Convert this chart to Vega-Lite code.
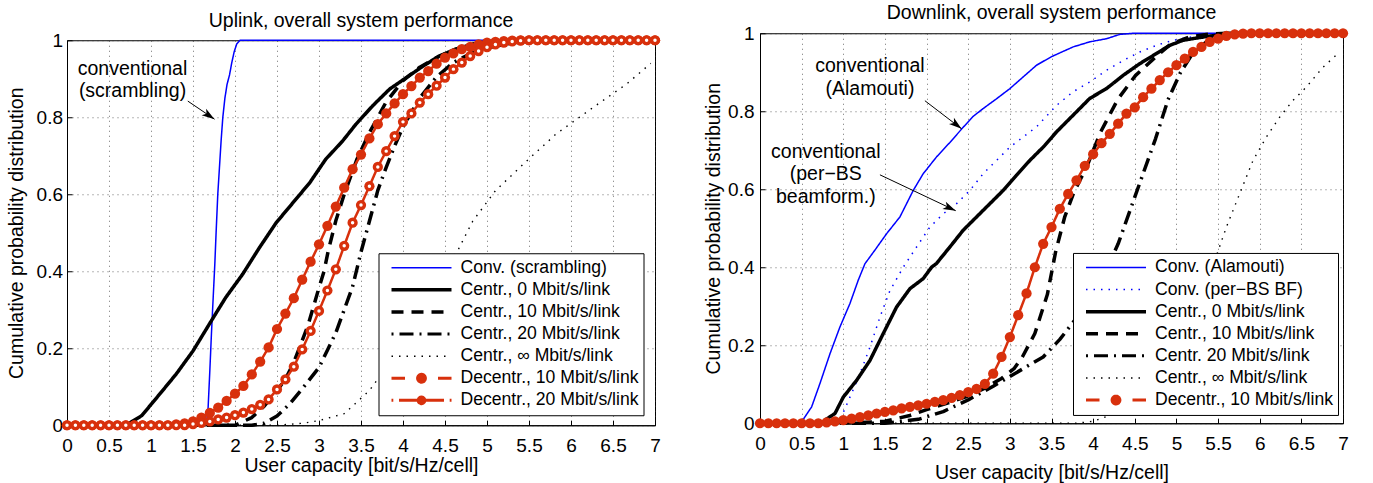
{
"$schema": "https://vega.github.io/schema/vega-lite/v6.json",
"background": "white",
"padding": {"left": 5, "top": 2, "right": 4, "bottom": 0},
"spacing": 42,
"center": true,
"datasets": {
"up": [
{"s":"Conv. (scrambling)","x":0,"y":0},{"s":"Conv. (scrambling)","x":1.6,"y":0},{"s":"Conv. (scrambling)","x":1.66,"y":0.005},{"s":"Conv. (scrambling)","x":1.68,"y":0.046},{"s":"Conv. (scrambling)","x":1.7,"y":0.14},{"s":"Conv. (scrambling)","x":1.72,"y":0.24},{"s":"Conv. (scrambling)","x":1.74,"y":0.33},{"s":"Conv. (scrambling)","x":1.76,"y":0.42},{"s":"Conv. (scrambling)","x":1.775,"y":0.5},{"s":"Conv. (scrambling)","x":1.795,"y":0.6},{"s":"Conv. (scrambling)","x":1.815,"y":0.67},{"s":"Conv. (scrambling)","x":1.835,"y":0.74},{"s":"Conv. (scrambling)","x":1.855,"y":0.8},{"s":"Conv. (scrambling)","x":1.88,"y":0.85},{"s":"Conv. (scrambling)","x":1.905,"y":0.885},{"s":"Conv. (scrambling)","x":1.935,"y":0.91},{"s":"Conv. (scrambling)","x":1.96,"y":0.94},{"s":"Conv. (scrambling)","x":1.99,"y":0.97},{"s":"Conv. (scrambling)","x":2.02,"y":0.99},{"s":"Conv. (scrambling)","x":2.06,"y":1},{"s":"Conv. (scrambling)","x":7,"y":1},
{"s":"Centr., 0 Mbit/s/link","x":0,"y":0},{"s":"Centr., 0 Mbit/s/link","x":0.7,"y":0},{"s":"Centr., 0 Mbit/s/link","x":0.74,"y":0.005},{"s":"Centr., 0 Mbit/s/link","x":0.89,"y":0.025},{"s":"Centr., 0 Mbit/s/link","x":1.1,"y":0.08},{"s":"Centr., 0 Mbit/s/link","x":1.3,"y":0.133},{"s":"Centr., 0 Mbit/s/link","x":1.5,"y":0.193},{"s":"Centr., 0 Mbit/s/link","x":1.74,"y":0.279},{"s":"Centr., 0 Mbit/s/link","x":1.89,"y":0.332},{"s":"Centr., 0 Mbit/s/link","x":2.09,"y":0.392},{"s":"Centr., 0 Mbit/s/link","x":2.29,"y":0.461},{"s":"Centr., 0 Mbit/s/link","x":2.49,"y":0.526},{"s":"Centr., 0 Mbit/s/link","x":2.69,"y":0.578},{"s":"Centr., 0 Mbit/s/link","x":2.89,"y":0.63},{"s":"Centr., 0 Mbit/s/link","x":3.08,"y":0.691},{"s":"Centr., 0 Mbit/s/link","x":3.28,"y":0.738},{"s":"Centr., 0 Mbit/s/link","x":3.44,"y":0.782},{"s":"Centr., 0 Mbit/s/link","x":3.64,"y":0.83},{"s":"Centr., 0 Mbit/s/link","x":3.84,"y":0.873},{"s":"Centr., 0 Mbit/s/link","x":4.04,"y":0.903},{"s":"Centr., 0 Mbit/s/link","x":4.24,"y":0.933},{"s":"Centr., 0 Mbit/s/link","x":4.43,"y":0.959},{"s":"Centr., 0 Mbit/s/link","x":4.63,"y":0.977},{"s":"Centr., 0 Mbit/s/link","x":4.83,"y":0.99},{"s":"Centr., 0 Mbit/s/link","x":5.1,"y":0.998},{"s":"Centr., 0 Mbit/s/link","x":5.4,"y":1},{"s":"Centr., 0 Mbit/s/link","x":7,"y":1},
{"s":"Centr., 10 Mbit/s/link","x":0,"y":0},{"s":"Centr., 10 Mbit/s/link","x":2.0,"y":0},{"s":"Centr., 10 Mbit/s/link","x":2.2,"y":0.02},{"s":"Centr., 10 Mbit/s/link","x":2.35,"y":0.05},{"s":"Centr., 10 Mbit/s/link","x":2.5,"y":0.09},{"s":"Centr., 10 Mbit/s/link","x":2.6,"y":0.12},{"s":"Centr., 10 Mbit/s/link","x":2.69,"y":0.158},{"s":"Centr., 10 Mbit/s/link","x":2.8,"y":0.22},{"s":"Centr., 10 Mbit/s/link","x":2.87,"y":0.26},{"s":"Centr., 10 Mbit/s/link","x":2.99,"y":0.35},{"s":"Centr., 10 Mbit/s/link","x":3.06,"y":0.4},{"s":"Centr., 10 Mbit/s/link","x":3.11,"y":0.453},{"s":"Centr., 10 Mbit/s/link","x":3.2,"y":0.531},{"s":"Centr., 10 Mbit/s/link","x":3.3,"y":0.6},{"s":"Centr., 10 Mbit/s/link","x":3.45,"y":0.69},{"s":"Centr., 10 Mbit/s/link","x":3.6,"y":0.76},{"s":"Centr., 10 Mbit/s/link","x":3.8,"y":0.84},{"s":"Centr., 10 Mbit/s/link","x":4.0,"y":0.895},{"s":"Centr., 10 Mbit/s/link","x":4.2,"y":0.93},{"s":"Centr., 10 Mbit/s/link","x":4.4,"y":0.955},{"s":"Centr., 10 Mbit/s/link","x":4.6,"y":0.975},{"s":"Centr., 10 Mbit/s/link","x":4.8,"y":0.988},{"s":"Centr., 10 Mbit/s/link","x":5.0,"y":0.995},{"s":"Centr., 10 Mbit/s/link","x":5.3,"y":1},{"s":"Centr., 10 Mbit/s/link","x":7,"y":1},
{"s":"Centr., 20 Mbit/s/link","x":0,"y":0},{"s":"Centr., 20 Mbit/s/link","x":2.2,"y":0},{"s":"Centr., 20 Mbit/s/link","x":2.35,"y":0.005},{"s":"Centr., 20 Mbit/s/link","x":2.5,"y":0.024},{"s":"Centr., 20 Mbit/s/link","x":2.65,"y":0.055},{"s":"Centr., 20 Mbit/s/link","x":2.82,"y":0.1},{"s":"Centr., 20 Mbit/s/link","x":3.0,"y":0.15},{"s":"Centr., 20 Mbit/s/link","x":3.1,"y":0.195},{"s":"Centr., 20 Mbit/s/link","x":3.2,"y":0.24},{"s":"Centr., 20 Mbit/s/link","x":3.3,"y":0.3},{"s":"Centr., 20 Mbit/s/link","x":3.4,"y":0.36},{"s":"Centr., 20 Mbit/s/link","x":3.5,"y":0.45},{"s":"Centr., 20 Mbit/s/link","x":3.6,"y":0.53},{"s":"Centr., 20 Mbit/s/link","x":3.7,"y":0.61},{"s":"Centr., 20 Mbit/s/link","x":3.8,"y":0.67},{"s":"Centr., 20 Mbit/s/link","x":3.9,"y":0.725},{"s":"Centr., 20 Mbit/s/link","x":4.0,"y":0.775},{"s":"Centr., 20 Mbit/s/link","x":4.2,"y":0.85},{"s":"Centr., 20 Mbit/s/link","x":4.4,"y":0.905},{"s":"Centr., 20 Mbit/s/link","x":4.6,"y":0.942},{"s":"Centr., 20 Mbit/s/link","x":4.8,"y":0.965},{"s":"Centr., 20 Mbit/s/link","x":5.0,"y":0.98},{"s":"Centr., 20 Mbit/s/link","x":5.3,"y":0.993},{"s":"Centr., 20 Mbit/s/link","x":5.6,"y":1},{"s":"Centr., 20 Mbit/s/link","x":7,"y":1},
{"s":"Centr., ∞ Mbit/s/link","x":0,"y":0},{"s":"Centr., ∞ Mbit/s/link","x":2.5,"y":0},{"s":"Centr., ∞ Mbit/s/link","x":2.8,"y":0.005},{"s":"Centr., ∞ Mbit/s/link","x":3.0,"y":0.012},{"s":"Centr., ∞ Mbit/s/link","x":3.3,"y":0.03},{"s":"Centr., ∞ Mbit/s/link","x":3.6,"y":0.09},{"s":"Centr., ∞ Mbit/s/link","x":3.8,"y":0.15},{"s":"Centr., ∞ Mbit/s/link","x":4.0,"y":0.22},{"s":"Centr., ∞ Mbit/s/link","x":4.2,"y":0.3},{"s":"Centr., ∞ Mbit/s/link","x":4.4,"y":0.37},{"s":"Centr., ∞ Mbit/s/link","x":4.65,"y":0.453},{"s":"Centr., ∞ Mbit/s/link","x":4.83,"y":0.53},{"s":"Centr., ∞ Mbit/s/link","x":5.1,"y":0.609},{"s":"Centr., ∞ Mbit/s/link","x":5.47,"y":0.686},{"s":"Centr., ∞ Mbit/s/link","x":5.82,"y":0.756},{"s":"Centr., ∞ Mbit/s/link","x":6.26,"y":0.825},{"s":"Centr., ∞ Mbit/s/link","x":6.66,"y":0.886},{"s":"Centr., ∞ Mbit/s/link","x":6.95,"y":0.94},
{"s":"Decentr., 10 Mbit/s/link","x":0,"y":0},{"s":"Decentr., 10 Mbit/s/link","x":0.1,"y":0},{"s":"Decentr., 10 Mbit/s/link","x":0.2,"y":0},{"s":"Decentr., 10 Mbit/s/link","x":0.3,"y":0},{"s":"Decentr., 10 Mbit/s/link","x":0.4,"y":0},{"s":"Decentr., 10 Mbit/s/link","x":0.5,"y":0},{"s":"Decentr., 10 Mbit/s/link","x":0.6,"y":0},{"s":"Decentr., 10 Mbit/s/link","x":0.7,"y":0},{"s":"Decentr., 10 Mbit/s/link","x":0.8,"y":0},{"s":"Decentr., 10 Mbit/s/link","x":0.9,"y":0},{"s":"Decentr., 10 Mbit/s/link","x":1.0,"y":0},{"s":"Decentr., 10 Mbit/s/link","x":1.1,"y":0},{"s":"Decentr., 10 Mbit/s/link","x":1.2,"y":0},{"s":"Decentr., 10 Mbit/s/link","x":1.3,"y":0.002},{"s":"Decentr., 10 Mbit/s/link","x":1.4,"y":0.005},{"s":"Decentr., 10 Mbit/s/link","x":1.5,"y":0.01},{"s":"Decentr., 10 Mbit/s/link","x":1.6,"y":0.02},{"s":"Decentr., 10 Mbit/s/link","x":1.7,"y":0.032},{"s":"Decentr., 10 Mbit/s/link","x":1.8,"y":0.046},{"s":"Decentr., 10 Mbit/s/link","x":1.9,"y":0.063},{"s":"Decentr., 10 Mbit/s/link","x":2.0,"y":0.082},{"s":"Decentr., 10 Mbit/s/link","x":2.1,"y":0.102},{"s":"Decentr., 10 Mbit/s/link","x":2.2,"y":0.132},{"s":"Decentr., 10 Mbit/s/link","x":2.3,"y":0.165},{"s":"Decentr., 10 Mbit/s/link","x":2.4,"y":0.202},{"s":"Decentr., 10 Mbit/s/link","x":2.5,"y":0.25},{"s":"Decentr., 10 Mbit/s/link","x":2.6,"y":0.29},{"s":"Decentr., 10 Mbit/s/link","x":2.7,"y":0.33},{"s":"Decentr., 10 Mbit/s/link","x":2.8,"y":0.378},{"s":"Decentr., 10 Mbit/s/link","x":2.9,"y":0.425},{"s":"Decentr., 10 Mbit/s/link","x":3.0,"y":0.47},{"s":"Decentr., 10 Mbit/s/link","x":3.1,"y":0.518},{"s":"Decentr., 10 Mbit/s/link","x":3.2,"y":0.568},{"s":"Decentr., 10 Mbit/s/link","x":3.3,"y":0.617},{"s":"Decentr., 10 Mbit/s/link","x":3.4,"y":0.665},{"s":"Decentr., 10 Mbit/s/link","x":3.5,"y":0.703},{"s":"Decentr., 10 Mbit/s/link","x":3.6,"y":0.745},{"s":"Decentr., 10 Mbit/s/link","x":3.7,"y":0.782},{"s":"Decentr., 10 Mbit/s/link","x":3.8,"y":0.81},{"s":"Decentr., 10 Mbit/s/link","x":3.9,"y":0.836},{"s":"Decentr., 10 Mbit/s/link","x":4.0,"y":0.86},{"s":"Decentr., 10 Mbit/s/link","x":4.1,"y":0.881},{"s":"Decentr., 10 Mbit/s/link","x":4.2,"y":0.903},{"s":"Decentr., 10 Mbit/s/link","x":4.3,"y":0.92},{"s":"Decentr., 10 Mbit/s/link","x":4.4,"y":0.939},{"s":"Decentr., 10 Mbit/s/link","x":4.5,"y":0.955},{"s":"Decentr., 10 Mbit/s/link","x":4.6,"y":0.966},{"s":"Decentr., 10 Mbit/s/link","x":4.7,"y":0.977},{"s":"Decentr., 10 Mbit/s/link","x":4.8,"y":0.983},{"s":"Decentr., 10 Mbit/s/link","x":4.9,"y":0.989},{"s":"Decentr., 10 Mbit/s/link","x":5.0,"y":0.994},{"s":"Decentr., 10 Mbit/s/link","x":5.1,"y":0.996},{"s":"Decentr., 10 Mbit/s/link","x":5.2,"y":0.998},{"s":"Decentr., 10 Mbit/s/link","x":5.3,"y":0.999},{"s":"Decentr., 10 Mbit/s/link","x":5.4,"y":1},{"s":"Decentr., 10 Mbit/s/link","x":5.5,"y":1},{"s":"Decentr., 10 Mbit/s/link","x":5.6,"y":1},{"s":"Decentr., 10 Mbit/s/link","x":5.7,"y":1},{"s":"Decentr., 10 Mbit/s/link","x":5.8,"y":1},{"s":"Decentr., 10 Mbit/s/link","x":5.9,"y":1},{"s":"Decentr., 10 Mbit/s/link","x":6.0,"y":1},{"s":"Decentr., 10 Mbit/s/link","x":6.1,"y":1},{"s":"Decentr., 10 Mbit/s/link","x":6.2,"y":1},{"s":"Decentr., 10 Mbit/s/link","x":6.3,"y":1},{"s":"Decentr., 10 Mbit/s/link","x":6.4,"y":1},{"s":"Decentr., 10 Mbit/s/link","x":6.5,"y":1},{"s":"Decentr., 10 Mbit/s/link","x":6.6,"y":1},{"s":"Decentr., 10 Mbit/s/link","x":6.7,"y":1},{"s":"Decentr., 10 Mbit/s/link","x":6.8,"y":1},{"s":"Decentr., 10 Mbit/s/link","x":6.9,"y":1},{"s":"Decentr., 10 Mbit/s/link","x":7.0,"y":1},
{"s":"Decentr., 20 Mbit/s/link","x":0,"y":0},{"s":"Decentr., 20 Mbit/s/link","x":0.1,"y":0},{"s":"Decentr., 20 Mbit/s/link","x":0.2,"y":0},{"s":"Decentr., 20 Mbit/s/link","x":0.3,"y":0},{"s":"Decentr., 20 Mbit/s/link","x":0.4,"y":0},{"s":"Decentr., 20 Mbit/s/link","x":0.5,"y":0},{"s":"Decentr., 20 Mbit/s/link","x":0.6,"y":0},{"s":"Decentr., 20 Mbit/s/link","x":0.7,"y":0},{"s":"Decentr., 20 Mbit/s/link","x":0.8,"y":0},{"s":"Decentr., 20 Mbit/s/link","x":0.9,"y":0},{"s":"Decentr., 20 Mbit/s/link","x":1.0,"y":0},{"s":"Decentr., 20 Mbit/s/link","x":1.1,"y":0},{"s":"Decentr., 20 Mbit/s/link","x":1.2,"y":0},{"s":"Decentr., 20 Mbit/s/link","x":1.3,"y":0},{"s":"Decentr., 20 Mbit/s/link","x":1.4,"y":0},{"s":"Decentr., 20 Mbit/s/link","x":1.5,"y":0.003},{"s":"Decentr., 20 Mbit/s/link","x":1.6,"y":0.006},{"s":"Decentr., 20 Mbit/s/link","x":1.7,"y":0.01},{"s":"Decentr., 20 Mbit/s/link","x":1.8,"y":0.015},{"s":"Decentr., 20 Mbit/s/link","x":1.9,"y":0.02},{"s":"Decentr., 20 Mbit/s/link","x":2.0,"y":0.026},{"s":"Decentr., 20 Mbit/s/link","x":2.1,"y":0.033},{"s":"Decentr., 20 Mbit/s/link","x":2.2,"y":0.042},{"s":"Decentr., 20 Mbit/s/link","x":2.3,"y":0.053},{"s":"Decentr., 20 Mbit/s/link","x":2.4,"y":0.067},{"s":"Decentr., 20 Mbit/s/link","x":2.5,"y":0.093},{"s":"Decentr., 20 Mbit/s/link","x":2.6,"y":0.119},{"s":"Decentr., 20 Mbit/s/link","x":2.7,"y":0.152},{"s":"Decentr., 20 Mbit/s/link","x":2.8,"y":0.197},{"s":"Decentr., 20 Mbit/s/link","x":2.9,"y":0.245},{"s":"Decentr., 20 Mbit/s/link","x":3.0,"y":0.297},{"s":"Decentr., 20 Mbit/s/link","x":3.1,"y":0.35},{"s":"Decentr., 20 Mbit/s/link","x":3.2,"y":0.405},{"s":"Decentr., 20 Mbit/s/link","x":3.3,"y":0.466},{"s":"Decentr., 20 Mbit/s/link","x":3.4,"y":0.526},{"s":"Decentr., 20 Mbit/s/link","x":3.5,"y":0.572},{"s":"Decentr., 20 Mbit/s/link","x":3.6,"y":0.621},{"s":"Decentr., 20 Mbit/s/link","x":3.7,"y":0.671},{"s":"Decentr., 20 Mbit/s/link","x":3.8,"y":0.712},{"s":"Decentr., 20 Mbit/s/link","x":3.9,"y":0.751},{"s":"Decentr., 20 Mbit/s/link","x":4.0,"y":0.788},{"s":"Decentr., 20 Mbit/s/link","x":4.1,"y":0.81},{"s":"Decentr., 20 Mbit/s/link","x":4.2,"y":0.838},{"s":"Decentr., 20 Mbit/s/link","x":4.3,"y":0.86},{"s":"Decentr., 20 Mbit/s/link","x":4.4,"y":0.882},{"s":"Decentr., 20 Mbit/s/link","x":4.5,"y":0.903},{"s":"Decentr., 20 Mbit/s/link","x":4.6,"y":0.925},{"s":"Decentr., 20 Mbit/s/link","x":4.7,"y":0.942},{"s":"Decentr., 20 Mbit/s/link","x":4.8,"y":0.959},{"s":"Decentr., 20 Mbit/s/link","x":4.9,"y":0.972},{"s":"Decentr., 20 Mbit/s/link","x":5.0,"y":0.982},{"s":"Decentr., 20 Mbit/s/link","x":5.1,"y":0.989},{"s":"Decentr., 20 Mbit/s/link","x":5.2,"y":0.994},{"s":"Decentr., 20 Mbit/s/link","x":5.3,"y":0.997},{"s":"Decentr., 20 Mbit/s/link","x":5.4,"y":0.999},{"s":"Decentr., 20 Mbit/s/link","x":5.5,"y":1},{"s":"Decentr., 20 Mbit/s/link","x":5.6,"y":1},{"s":"Decentr., 20 Mbit/s/link","x":5.7,"y":1},{"s":"Decentr., 20 Mbit/s/link","x":5.8,"y":1},{"s":"Decentr., 20 Mbit/s/link","x":5.9,"y":1},{"s":"Decentr., 20 Mbit/s/link","x":6.0,"y":1},{"s":"Decentr., 20 Mbit/s/link","x":6.1,"y":1},{"s":"Decentr., 20 Mbit/s/link","x":6.2,"y":1},{"s":"Decentr., 20 Mbit/s/link","x":6.3,"y":1},{"s":"Decentr., 20 Mbit/s/link","x":6.4,"y":1},{"s":"Decentr., 20 Mbit/s/link","x":6.5,"y":1},{"s":"Decentr., 20 Mbit/s/link","x":6.6,"y":1},{"s":"Decentr., 20 Mbit/s/link","x":6.7,"y":1},{"s":"Decentr., 20 Mbit/s/link","x":6.8,"y":1},{"s":"Decentr., 20 Mbit/s/link","x":6.9,"y":1},{"s":"Decentr., 20 Mbit/s/link","x":7.0,"y":1}
],
"down": [
{"s":"Conv. (Alamouti)","x":0,"y":0},{"s":"Conv. (Alamouti)","x":0.48,"y":0},{"s":"Conv. (Alamouti)","x":0.52,"y":0.01},{"s":"Conv. (Alamouti)","x":0.62,"y":0.042},{"s":"Conv. (Alamouti)","x":0.72,"y":0.102},{"s":"Conv. (Alamouti)","x":0.84,"y":0.178},{"s":"Conv. (Alamouti)","x":0.96,"y":0.247},{"s":"Conv. (Alamouti)","x":1.08,"y":0.307},{"s":"Conv. (Alamouti)","x":1.18,"y":0.367},{"s":"Conv. (Alamouti)","x":1.26,"y":0.409},{"s":"Conv. (Alamouti)","x":1.38,"y":0.444},{"s":"Conv. (Alamouti)","x":1.52,"y":0.486},{"s":"Conv. (Alamouti)","x":1.68,"y":0.529},{"s":"Conv. (Alamouti)","x":1.84,"y":0.597},{"s":"Conv. (Alamouti)","x":1.96,"y":0.64},{"s":"Conv. (Alamouti)","x":2.12,"y":0.683},{"s":"Conv. (Alamouti)","x":2.28,"y":0.72},{"s":"Conv. (Alamouti)","x":2.44,"y":0.759},{"s":"Conv. (Alamouti)","x":2.56,"y":0.787},{"s":"Conv. (Alamouti)","x":2.68,"y":0.807},{"s":"Conv. (Alamouti)","x":2.84,"y":0.832},{"s":"Conv. (Alamouti)","x":3.0,"y":0.858},{"s":"Conv. (Alamouti)","x":3.16,"y":0.888},{"s":"Conv. (Alamouti)","x":3.32,"y":0.918},{"s":"Conv. (Alamouti)","x":3.5,"y":0.94},{"s":"Conv. (Alamouti)","x":3.76,"y":0.965},{"s":"Conv. (Alamouti)","x":3.96,"y":0.978},{"s":"Conv. (Alamouti)","x":4.16,"y":0.986},{"s":"Conv. (Alamouti)","x":4.32,"y":0.997},{"s":"Conv. (Alamouti)","x":4.48,"y":1},{"s":"Conv. (Alamouti)","x":7,"y":1},
{"s":"Conv. (per−BS BF)","x":0,"y":0},{"s":"Conv. (per−BS BF)","x":0.9,"y":0},{"s":"Conv. (per−BS BF)","x":0.96,"y":0.008},{"s":"Conv. (per−BS BF)","x":1.08,"y":0.067},{"s":"Conv. (per−BS BF)","x":1.2,"y":0.127},{"s":"Conv. (per−BS BF)","x":1.32,"y":0.195},{"s":"Conv. (per−BS BF)","x":1.44,"y":0.272},{"s":"Conv. (per−BS BF)","x":1.56,"y":0.34},{"s":"Conv. (per−BS BF)","x":1.72,"y":0.4},{"s":"Conv. (per−BS BF)","x":1.88,"y":0.452},{"s":"Conv. (per−BS BF)","x":2.04,"y":0.503},{"s":"Conv. (per−BS BF)","x":2.2,"y":0.537},{"s":"Conv. (per−BS BF)","x":2.36,"y":0.563},{"s":"Conv. (per−BS BF)","x":2.52,"y":0.597},{"s":"Conv. (per−BS BF)","x":2.68,"y":0.64},{"s":"Conv. (per−BS BF)","x":2.84,"y":0.674},{"s":"Conv. (per−BS BF)","x":3.0,"y":0.708},{"s":"Conv. (per−BS BF)","x":3.16,"y":0.734},{"s":"Conv. (per−BS BF)","x":3.32,"y":0.76},{"s":"Conv. (per−BS BF)","x":3.45,"y":0.79},{"s":"Conv. (per−BS BF)","x":3.56,"y":0.815},{"s":"Conv. (per−BS BF)","x":3.76,"y":0.85},{"s":"Conv. (per−BS BF)","x":3.96,"y":0.875},{"s":"Conv. (per−BS BF)","x":4.16,"y":0.905},{"s":"Conv. (per−BS BF)","x":4.36,"y":0.93},{"s":"Conv. (per−BS BF)","x":4.56,"y":0.952},{"s":"Conv. (per−BS BF)","x":4.76,"y":0.969},{"s":"Conv. (per−BS BF)","x":4.96,"y":0.982},{"s":"Conv. (per−BS BF)","x":5.16,"y":0.99},{"s":"Conv. (per−BS BF)","x":5.36,"y":0.997},{"s":"Conv. (per−BS BF)","x":5.5,"y":1},{"s":"Conv. (per−BS BF)","x":7,"y":1},
{"s":"Centr., 0 Mbit/s/link","x":0,"y":0},{"s":"Centr., 0 Mbit/s/link","x":0.75,"y":0},{"s":"Centr., 0 Mbit/s/link","x":0.78,"y":0.008},{"s":"Centr., 0 Mbit/s/link","x":0.9,"y":0.025},{"s":"Centr., 0 Mbit/s/link","x":1.0,"y":0.067},{"s":"Centr., 0 Mbit/s/link","x":1.16,"y":0.11},{"s":"Centr., 0 Mbit/s/link","x":1.32,"y":0.161},{"s":"Centr., 0 Mbit/s/link","x":1.48,"y":0.23},{"s":"Centr., 0 Mbit/s/link","x":1.64,"y":0.298},{"s":"Centr., 0 Mbit/s/link","x":1.8,"y":0.345},{"s":"Centr., 0 Mbit/s/link","x":1.96,"y":0.371},{"s":"Centr., 0 Mbit/s/link","x":2.06,"y":0.4},{"s":"Centr., 0 Mbit/s/link","x":2.12,"y":0.41},{"s":"Centr., 0 Mbit/s/link","x":2.28,"y":0.452},{"s":"Centr., 0 Mbit/s/link","x":2.44,"y":0.495},{"s":"Centr., 0 Mbit/s/link","x":2.6,"y":0.529},{"s":"Centr., 0 Mbit/s/link","x":2.76,"y":0.563},{"s":"Centr., 0 Mbit/s/link","x":2.92,"y":0.597},{"s":"Centr., 0 Mbit/s/link","x":3.08,"y":0.636},{"s":"Centr., 0 Mbit/s/link","x":3.24,"y":0.674},{"s":"Centr., 0 Mbit/s/link","x":3.4,"y":0.708},{"s":"Centr., 0 Mbit/s/link","x":3.56,"y":0.747},{"s":"Centr., 0 Mbit/s/link","x":3.76,"y":0.79},{"s":"Centr., 0 Mbit/s/link","x":3.96,"y":0.833},{"s":"Centr., 0 Mbit/s/link","x":4.16,"y":0.858},{"s":"Centr., 0 Mbit/s/link","x":4.36,"y":0.892},{"s":"Centr., 0 Mbit/s/link","x":4.56,"y":0.922},{"s":"Centr., 0 Mbit/s/link","x":4.76,"y":0.948},{"s":"Centr., 0 Mbit/s/link","x":4.92,"y":0.969},{"s":"Centr., 0 Mbit/s/link","x":5.08,"y":0.982},{"s":"Centr., 0 Mbit/s/link","x":5.28,"y":0.989},{"s":"Centr., 0 Mbit/s/link","x":5.48,"y":0.995},{"s":"Centr., 0 Mbit/s/link","x":5.6,"y":1},{"s":"Centr., 0 Mbit/s/link","x":7,"y":1},
{"s":"Centr., 10 Mbit/s/link","x":0,"y":0},{"s":"Centr., 10 Mbit/s/link","x":1.0,"y":0},{"s":"Centr., 10 Mbit/s/link","x":1.5,"y":0.005},{"s":"Centr., 10 Mbit/s/link","x":1.8,"y":0.02},{"s":"Centr., 10 Mbit/s/link","x":2.0,"y":0.035},{"s":"Centr., 10 Mbit/s/link","x":2.3,"y":0.055},{"s":"Centr., 10 Mbit/s/link","x":2.5,"y":0.07},{"s":"Centr., 10 Mbit/s/link","x":2.7,"y":0.09},{"s":"Centr., 10 Mbit/s/link","x":2.9,"y":0.115},{"s":"Centr., 10 Mbit/s/link","x":3.05,"y":0.14},{"s":"Centr., 10 Mbit/s/link","x":3.15,"y":0.17},{"s":"Centr., 10 Mbit/s/link","x":3.3,"y":0.23},{"s":"Centr., 10 Mbit/s/link","x":3.45,"y":0.33},{"s":"Centr., 10 Mbit/s/link","x":3.55,"y":0.44},{"s":"Centr., 10 Mbit/s/link","x":3.66,"y":0.53},{"s":"Centr., 10 Mbit/s/link","x":3.77,"y":0.593},{"s":"Centr., 10 Mbit/s/link","x":3.93,"y":0.661},{"s":"Centr., 10 Mbit/s/link","x":4.09,"y":0.747},{"s":"Centr., 10 Mbit/s/link","x":4.3,"y":0.832},{"s":"Centr., 10 Mbit/s/link","x":4.51,"y":0.892},{"s":"Centr., 10 Mbit/s/link","x":4.77,"y":0.943},{"s":"Centr., 10 Mbit/s/link","x":4.93,"y":0.972},{"s":"Centr., 10 Mbit/s/link","x":5.15,"y":0.99},{"s":"Centr., 10 Mbit/s/link","x":5.4,"y":0.998},{"s":"Centr., 10 Mbit/s/link","x":5.6,"y":1},{"s":"Centr., 10 Mbit/s/link","x":7,"y":1},
{"s":"Centr. 20 Mbit/s/link","x":0,"y":0},{"s":"Centr. 20 Mbit/s/link","x":1.5,"y":0},{"s":"Centr. 20 Mbit/s/link","x":1.9,"y":0.01},{"s":"Centr. 20 Mbit/s/link","x":2.2,"y":0.03},{"s":"Centr. 20 Mbit/s/link","x":2.5,"y":0.06},{"s":"Centr. 20 Mbit/s/link","x":2.8,"y":0.095},{"s":"Centr. 20 Mbit/s/link","x":3.0,"y":0.12},{"s":"Centr. 20 Mbit/s/link","x":3.2,"y":0.145},{"s":"Centr. 20 Mbit/s/link","x":3.4,"y":0.17},{"s":"Centr. 20 Mbit/s/link","x":3.6,"y":0.215},{"s":"Centr. 20 Mbit/s/link","x":3.8,"y":0.27},{"s":"Centr. 20 Mbit/s/link","x":4.0,"y":0.33},{"s":"Centr. 20 Mbit/s/link","x":4.15,"y":0.39},{"s":"Centr. 20 Mbit/s/link","x":4.3,"y":0.46},{"s":"Centr. 20 Mbit/s/link","x":4.45,"y":0.55},{"s":"Centr. 20 Mbit/s/link","x":4.6,"y":0.64},{"s":"Centr. 20 Mbit/s/link","x":4.75,"y":0.73},{"s":"Centr. 20 Mbit/s/link","x":4.9,"y":0.83},{"s":"Centr. 20 Mbit/s/link","x":5.05,"y":0.9},{"s":"Centr. 20 Mbit/s/link","x":5.2,"y":0.95},{"s":"Centr. 20 Mbit/s/link","x":5.4,"y":0.985},{"s":"Centr. 20 Mbit/s/link","x":5.6,"y":0.996},{"s":"Centr. 20 Mbit/s/link","x":5.8,"y":1},{"s":"Centr. 20 Mbit/s/link","x":7,"y":1},
{"s":"Centr., ∞ Mbit/s/link","x":0,"y":0},{"s":"Centr., ∞ Mbit/s/link","x":3.8,"y":0},{"s":"Centr., ∞ Mbit/s/link","x":4.0,"y":0.005},{"s":"Centr., ∞ Mbit/s/link","x":4.2,"y":0.02},{"s":"Centr., ∞ Mbit/s/link","x":4.4,"y":0.05},{"s":"Centr., ∞ Mbit/s/link","x":4.6,"y":0.1},{"s":"Centr., ∞ Mbit/s/link","x":4.8,"y":0.16},{"s":"Centr., ∞ Mbit/s/link","x":5.0,"y":0.22},{"s":"Centr., ∞ Mbit/s/link","x":5.2,"y":0.3},{"s":"Centr., ∞ Mbit/s/link","x":5.44,"y":0.405},{"s":"Centr., ∞ Mbit/s/link","x":5.6,"y":0.503},{"s":"Centr., ∞ Mbit/s/link","x":5.76,"y":0.589},{"s":"Centr., ∞ Mbit/s/link","x":5.92,"y":0.674},{"s":"Centr., ∞ Mbit/s/link","x":6.08,"y":0.734},{"s":"Centr., ∞ Mbit/s/link","x":6.24,"y":0.785},{"s":"Centr., ∞ Mbit/s/link","x":6.4,"y":0.828},{"s":"Centr., ∞ Mbit/s/link","x":6.56,"y":0.862},{"s":"Centr., ∞ Mbit/s/link","x":6.76,"y":0.913},{"s":"Centr., ∞ Mbit/s/link","x":6.95,"y":0.95},
{"s":"Decentr., 10 Mbit/s/link","x":0,"y":0},{"s":"Decentr., 10 Mbit/s/link","x":0.1,"y":0},{"s":"Decentr., 10 Mbit/s/link","x":0.2,"y":0},{"s":"Decentr., 10 Mbit/s/link","x":0.3,"y":0},{"s":"Decentr., 10 Mbit/s/link","x":0.4,"y":0},{"s":"Decentr., 10 Mbit/s/link","x":0.5,"y":0},{"s":"Decentr., 10 Mbit/s/link","x":0.6,"y":0},{"s":"Decentr., 10 Mbit/s/link","x":0.7,"y":0},{"s":"Decentr., 10 Mbit/s/link","x":0.8,"y":0.002},{"s":"Decentr., 10 Mbit/s/link","x":0.9,"y":0.005},{"s":"Decentr., 10 Mbit/s/link","x":1.0,"y":0.008},{"s":"Decentr., 10 Mbit/s/link","x":1.1,"y":0.012},{"s":"Decentr., 10 Mbit/s/link","x":1.2,"y":0.016},{"s":"Decentr., 10 Mbit/s/link","x":1.3,"y":0.02},{"s":"Decentr., 10 Mbit/s/link","x":1.4,"y":0.025},{"s":"Decentr., 10 Mbit/s/link","x":1.5,"y":0.029},{"s":"Decentr., 10 Mbit/s/link","x":1.6,"y":0.033},{"s":"Decentr., 10 Mbit/s/link","x":1.7,"y":0.038},{"s":"Decentr., 10 Mbit/s/link","x":1.8,"y":0.042},{"s":"Decentr., 10 Mbit/s/link","x":1.9,"y":0.046},{"s":"Decentr., 10 Mbit/s/link","x":2.0,"y":0.05},{"s":"Decentr., 10 Mbit/s/link","x":2.1,"y":0.055},{"s":"Decentr., 10 Mbit/s/link","x":2.2,"y":0.059},{"s":"Decentr., 10 Mbit/s/link","x":2.3,"y":0.065},{"s":"Decentr., 10 Mbit/s/link","x":2.4,"y":0.072},{"s":"Decentr., 10 Mbit/s/link","x":2.5,"y":0.08},{"s":"Decentr., 10 Mbit/s/link","x":2.6,"y":0.088},{"s":"Decentr., 10 Mbit/s/link","x":2.7,"y":0.101},{"s":"Decentr., 10 Mbit/s/link","x":2.8,"y":0.127},{"s":"Decentr., 10 Mbit/s/link","x":2.9,"y":0.17},{"s":"Decentr., 10 Mbit/s/link","x":3.0,"y":0.221},{"s":"Decentr., 10 Mbit/s/link","x":3.1,"y":0.277},{"s":"Decentr., 10 Mbit/s/link","x":3.2,"y":0.333},{"s":"Decentr., 10 Mbit/s/link","x":3.3,"y":0.4},{"s":"Decentr., 10 Mbit/s/link","x":3.4,"y":0.46},{"s":"Decentr., 10 Mbit/s/link","x":3.5,"y":0.503},{"s":"Decentr., 10 Mbit/s/link","x":3.6,"y":0.55},{"s":"Decentr., 10 Mbit/s/link","x":3.7,"y":0.588},{"s":"Decentr., 10 Mbit/s/link","x":3.8,"y":0.623},{"s":"Decentr., 10 Mbit/s/link","x":3.9,"y":0.66},{"s":"Decentr., 10 Mbit/s/link","x":4.0,"y":0.69},{"s":"Decentr., 10 Mbit/s/link","x":4.1,"y":0.718},{"s":"Decentr., 10 Mbit/s/link","x":4.2,"y":0.742},{"s":"Decentr., 10 Mbit/s/link","x":4.3,"y":0.768},{"s":"Decentr., 10 Mbit/s/link","x":4.4,"y":0.794},{"s":"Decentr., 10 Mbit/s/link","x":4.5,"y":0.81},{"s":"Decentr., 10 Mbit/s/link","x":4.6,"y":0.836},{"s":"Decentr., 10 Mbit/s/link","x":4.7,"y":0.858},{"s":"Decentr., 10 Mbit/s/link","x":4.8,"y":0.88},{"s":"Decentr., 10 Mbit/s/link","x":4.9,"y":0.9},{"s":"Decentr., 10 Mbit/s/link","x":5.0,"y":0.918},{"s":"Decentr., 10 Mbit/s/link","x":5.1,"y":0.935},{"s":"Decentr., 10 Mbit/s/link","x":5.2,"y":0.952},{"s":"Decentr., 10 Mbit/s/link","x":5.3,"y":0.965},{"s":"Decentr., 10 Mbit/s/link","x":5.4,"y":0.978},{"s":"Decentr., 10 Mbit/s/link","x":5.5,"y":0.986},{"s":"Decentr., 10 Mbit/s/link","x":5.6,"y":0.993},{"s":"Decentr., 10 Mbit/s/link","x":5.7,"y":0.997},{"s":"Decentr., 10 Mbit/s/link","x":5.8,"y":0.999},{"s":"Decentr., 10 Mbit/s/link","x":5.9,"y":1},{"s":"Decentr., 10 Mbit/s/link","x":6.0,"y":1},{"s":"Decentr., 10 Mbit/s/link","x":6.1,"y":1},{"s":"Decentr., 10 Mbit/s/link","x":6.2,"y":1},{"s":"Decentr., 10 Mbit/s/link","x":6.3,"y":1},{"s":"Decentr., 10 Mbit/s/link","x":6.4,"y":1},{"s":"Decentr., 10 Mbit/s/link","x":6.5,"y":1},{"s":"Decentr., 10 Mbit/s/link","x":6.6,"y":1},{"s":"Decentr., 10 Mbit/s/link","x":6.7,"y":1},{"s":"Decentr., 10 Mbit/s/link","x":6.8,"y":1},{"s":"Decentr., 10 Mbit/s/link","x":6.9,"y":1},{"s":"Decentr., 10 Mbit/s/link","x":7.0,"y":1}
],
"upText": [{"t":"conventional","x":0.78,"y":0.926},{"t":"(scrambling)","x":0.78,"y":0.868}],
"upArrow": [{"x":1.438,"y":0.842,"x2":1.756,"y2":0.795}],
"downText": [{"t":"conventional","x":1.32,"y":0.915},{"t":"(Alamouti)","x":1.32,"y":0.858},{"t":"conventional","x":0.79,"y":0.696},{"t":"(per−BS","x":0.79,"y":0.64},{"t":"beamform.)","x":0.79,"y":0.58}],
"downArrow": [{"x":1.98,"y":0.827,"x2":2.42,"y2":0.755},{"x":1.44,"y":0.637,"x2":2.35,"y2":0.545}]
},
"hconcat": [
{
"width": 588, "height": 385,
"title": {"text": "Uplink, overall system performance", "frame": "group", "offset": -0.3},
"layer": [
{"data": {"name": "up"}, "mark": {"type": "line", "strokeJoin": "round"},
 "encoding": {
  "x": {"field": "x", "type": "quantitative", "scale": {"domain": [0, 7], "nice": false, "zero": false},
        "axis": {"title": "User capacity [bit/s/Hz/cell]", "values": [0,0.5,1,1.5,2,2.5,3,3.5,4,4.5,5,5.5,6,6.5,7], "format": "~g", "labelPadding": 16.5, "titlePadding": 1}},
  "y": {"field": "y", "type": "quantitative", "scale": {"domain": [0, 1], "nice": false},
        "axis": {"title": "Cumulative probability distribution", "values": [0,0.2,0.4,0.6,0.8,1], "format": "~g", "labelPadding": 9.5, "titlePadding": 10}},
  "color": {"field": "s", "type": "nominal",
    "scale": {"domain": ["Conv. (scrambling)","Centr., 0 Mbit/s/link","Centr., 10 Mbit/s/link","Centr., 20 Mbit/s/link","Centr., ∞ Mbit/s/link","Decentr., 10 Mbit/s/link","Decentr., 20 Mbit/s/link"],
              "range": ["#0000ff","#000000","#000000","#000000","#000000","#d8300c","#d8300c"]},
    "legend": {"title": null, "orient": "none", "legendX": 311.5, "legendY": 213, "symbolType": "stroke", "symbolSize": 3600, "symbolStrokeWidth": 3, "clipHeight": 19, "rowPadding": 3.1, "padding": 5, "symbolOffset": 6, "labelOffset": 7, "labelFontSize": 17.6, "labelColor": "black", "labelLimit": 400, "strokeColor": "black", "fillColor": "white", "cornerRadius": 0}},
  "strokeDash": {"field": "s", "type": "nominal",
    "scale": {"domain": ["Conv. (scrambling)","Centr., 0 Mbit/s/link","Centr., 10 Mbit/s/link","Centr., 20 Mbit/s/link","Centr., ∞ Mbit/s/link","Decentr., 10 Mbit/s/link","Decentr., 20 Mbit/s/link"],
              "range": [[1,0],[1,0],[12,8],[2,6,14,6],[1.5,6],[1,0],[1,0]]}},
  "strokeWidth": {"condition": [{"test": "datum.s === 'Conv. (scrambling)'", "value": 1.5}, {"test": "datum.s === 'Centr., ∞ Mbit/s/link'", "value": 1.4}, {"test": "indexof(datum.s, 'Decentr.') === 0", "value": 2.5}], "value": 3.5}
 }},
{"data": {"name": "up"}, "transform": [{"filter": "false"}],
 "mark": {"type": "point", "filled": true, "opacity": 1},
 "encoding": {"x": {"field": "x", "type": "quantitative"}, "y": {"field": "y", "type": "quantitative"},
   "color": {"field": "s", "type": "nominal"},
   "strokeWidth": {"field": "s", "type": "nominal",
     "scale": {"type": "ordinal", "domain": ["Conv. (scrambling)","Centr., 0 Mbit/s/link","Centr., 10 Mbit/s/link","Centr., 20 Mbit/s/link","Centr., ∞ Mbit/s/link","Decentr., 10 Mbit/s/link","Decentr., 20 Mbit/s/link"],
               "range": [1.5, 3.5, 3.5, 3, 1.5, 3, 3]}},
   "shape": {"field": "s", "type": "nominal",
     "scale": {"domain": ["Conv. (scrambling)","Centr., 0 Mbit/s/link","Centr., 10 Mbit/s/link","Centr., 20 Mbit/s/link","Centr., ∞ Mbit/s/link","Decentr., 10 Mbit/s/link","Decentr., 20 Mbit/s/link"],
               "range": ["stroke","stroke","stroke","stroke","stroke","M-1,0L-0.55,0M0.55,0L1,0M-0.13,0A0.13,0.13,0,1,1,0.13,0A0.13,0.13,0,1,1,-0.13,0Z","M-1,0L-0.94,0M-0.75,0L0.75,0M0.94,0L1,0M-0.11,0A0.11,0.11,0,1,1,0.11,0A0.11,0.11,0,1,1,-0.11,0Z"]}}}},
{"data": {"name": "up"}, "transform": [{"filter": "indexof(datum.s, 'Decentr.') === 0"}],
 "mark": {"type": "point", "filled": true, "size": 105, "color": "#d8300c", "opacity": 1},
 "encoding": {"x": {"field": "x", "type": "quantitative"}, "y": {"field": "y", "type": "quantitative"}}},
{"data": {"name": "up"}, "transform": [{"filter": "datum.s === 'Decentr., 20 Mbit/s/link'"}],
 "mark": {"type": "point", "filled": true, "size": 12, "color": "white", "opacity": 1},
 "encoding": {"x": {"field": "x", "type": "quantitative"}, "y": {"field": "y", "type": "quantitative"}}},
{"data": {"name": "upText"}, "mark": {"type": "text", "fontSize": 19.5, "align": "center", "baseline": "middle", "color": "black"},
 "encoding": {"x": {"field": "x", "type": "quantitative"}, "y": {"field": "y", "type": "quantitative"}, "text": {"field": "t"}}},
{"data": {"name": "upArrow"}, "mark": {"type": "rule", "strokeWidth": 1, "color": "black"},
 "encoding": {"x": {"field": "x", "type": "quantitative"}, "y": {"field": "y", "type": "quantitative"}, "x2": {"field": "x2"}, "y2": {"field": "y2"}}},
{"data": {"name": "upArrow"}, "mark": {"type": "point", "shape": "M0,0L-0.5,1.6L0,1.2L0.5,1.6Z", "size": 256, "filled": true, "color": "black", "opacity": 1, "angle": 124},
 "encoding": {"x": {"field": "x2", "type": "quantitative"}, "y": {"field": "y2", "type": "quantitative"}}}
]
},
{
"width": 583, "height": 390,
"title": {"text": "Downlink, overall system performance", "frame": "group", "offset": 1},
"layer": [
{"data": {"name": "down"}, "mark": {"type": "line", "strokeJoin": "round"},
 "encoding": {
  "x": {"field": "x", "type": "quantitative", "scale": {"domain": [0, 7], "nice": false, "zero": false},
        "axis": {"title": "User capacity [bit/s/Hz/cell]", "values": [0,0.5,1,1.5,2,2.5,3,3.5,4,4.5,5,5.5,6,6.5,7], "format": "~g", "labelPadding": 16.5, "titlePadding": 10}},
  "y": {"field": "y", "type": "quantitative", "scale": {"domain": [0, 1], "nice": false},
        "axis": {"title": "Cumulative probability distribution", "values": [0,0.2,0.4,0.6,0.8,1], "format": "~g", "labelPadding": 11, "titlePadding": 4}},
  "color": {"field": "s", "type": "nominal",
    "scale": {"domain": ["Conv. (Alamouti)","Conv. (per−BS BF)","Centr., 0 Mbit/s/link","Centr., 10 Mbit/s/link","Centr. 20 Mbit/s/link","Centr., ∞ Mbit/s/link","Decentr., 10 Mbit/s/link"],
              "range": ["#0000ff","#0000ff","#000000","#000000","#000000","#000000","#d8300c"]},
    "legend": {"title": null, "orient": "none", "legendX": 313, "legendY": 219.7, "symbolType": "stroke", "symbolSize": 3600, "symbolStrokeWidth": 3, "clipHeight": 19, "rowPadding": 3.1, "padding": 5, "symbolOffset": 6, "labelOffset": 7, "labelFontSize": 17.6, "labelColor": "black", "labelLimit": 400, "strokeColor": "black", "fillColor": "white", "cornerRadius": 0}},
  "strokeDash": {"field": "s", "type": "nominal",
    "scale": {"domain": ["Conv. (Alamouti)","Conv. (per−BS BF)","Centr., 0 Mbit/s/link","Centr., 10 Mbit/s/link","Centr. 20 Mbit/s/link","Centr., ∞ Mbit/s/link","Decentr., 10 Mbit/s/link"],
              "range": [[1,0],[1.5,6],[1,0],[12,8],[2,6,14,6],[1.5,6],[1,0]]}},
  "strokeWidth": {"condition": [{"test": "indexof(datum.s, 'Conv.') === 0", "value": 1.5}, {"test": "datum.s === 'Centr., ∞ Mbit/s/link'", "value": 1.4}, {"test": "indexof(datum.s, 'Decentr.') === 0", "value": 2.5}], "value": 3.5}
 }},
{"data": {"name": "down"}, "transform": [{"filter": "false"}],
 "mark": {"type": "point", "filled": true, "opacity": 1},
 "encoding": {"x": {"field": "x", "type": "quantitative"}, "y": {"field": "y", "type": "quantitative"},
   "color": {"field": "s", "type": "nominal"},
   "strokeWidth": {"field": "s", "type": "nominal",
     "scale": {"type": "ordinal", "domain": ["Conv. (Alamouti)","Conv. (per−BS BF)","Centr., 0 Mbit/s/link","Centr., 10 Mbit/s/link","Centr. 20 Mbit/s/link","Centr., ∞ Mbit/s/link","Decentr., 10 Mbit/s/link"],
               "range": [1.5, 1.5, 3.5, 3.5, 3, 1.5, 3]}},
   "shape": {"field": "s", "type": "nominal",
     "scale": {"domain": ["Conv. (Alamouti)","Conv. (per−BS BF)","Centr., 0 Mbit/s/link","Centr., 10 Mbit/s/link","Centr. 20 Mbit/s/link","Centr., ∞ Mbit/s/link","Decentr., 10 Mbit/s/link"],
               "range": ["stroke","stroke","stroke","stroke","stroke","stroke","M-1,0L-0.55,0M0.55,0L1,0M-0.13,0A0.13,0.13,0,1,1,0.13,0A0.13,0.13,0,1,1,-0.13,0Z"]}}}},
{"data": {"name": "down"}, "transform": [{"filter": "indexof(datum.s, 'Decentr.') === 0"}],
 "mark": {"type": "point", "filled": true, "size": 105, "color": "#d8300c", "opacity": 1},
 "encoding": {"x": {"field": "x", "type": "quantitative"}, "y": {"field": "y", "type": "quantitative"}}},
{"data": {"name": "downText"}, "mark": {"type": "text", "fontSize": 19.5, "align": "center", "baseline": "middle", "color": "black"},
 "encoding": {"x": {"field": "x", "type": "quantitative"}, "y": {"field": "y", "type": "quantitative"}, "text": {"field": "t"}}},
{"data": {"name": "downArrow"}, "mark": {"type": "rule", "strokeWidth": 1, "color": "black"},
 "encoding": {"x": {"field": "x", "type": "quantitative"}, "y": {"field": "y", "type": "quantitative"}, "x2": {"field": "x2"}, "y2": {"field": "y2"}}},
{"data": {"name": "downArrow"}, "mark": {"type": "point", "shape": "M0,0L-0.5,1.6L0,1.2L0.5,1.6Z", "size": 256, "filled": true, "color": "black", "opacity": 1},
 "encoding": {"x": {"field": "x2", "type": "quantitative"}, "y": {"field": "y2", "type": "quantitative"},
   "angle": {"condition": {"test": "datum.y2 > 0.7", "value": 128}, "value": 115}}}
]
}
],
"resolve": {"scale": {"x": "independent", "y": "independent", "color": "independent", "strokeDash": "independent", "shape": "independent", "strokeWidth": "independent"}, "legend": {"color": "independent", "strokeDash": "independent", "shape": "independent", "strokeWidth": "independent"}},
"config": {
 "font": "Liberation Sans",
 "view": {"stroke": "black", "strokeWidth": 1},
 "axis": {"labelFontSize": 19, "titleFontSize": 19.5, "labelColor": "black", "titleColor": "black", "titleFontWeight": "normal", "domainColor": "black", "tickColor": "black", "tickSize": -5, "grid": true, "gridColor": "#333333", "gridDash": [1, 4], "gridOpacity": 0.7, "labelFlush": false, "labelOverlap": false},
 "title": {"fontSize": 19.5, "fontWeight": "normal", "color": "black"}
}
}
